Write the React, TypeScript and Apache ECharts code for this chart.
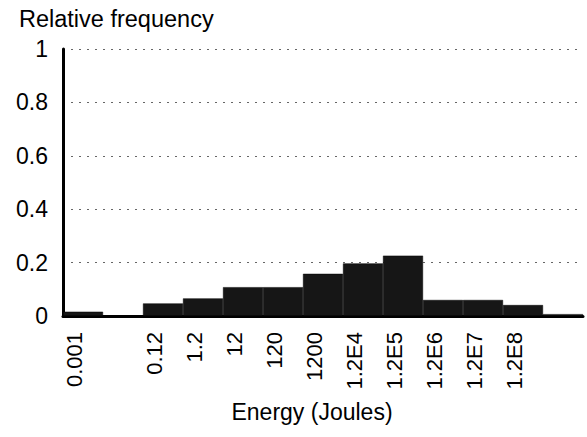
import React, { useEffect, useRef } from "react";
import * as echarts from "echarts";

const categories = ["0.001", "", "0.12", "1.2", "12", "120", "1200", "1.2E4", "1.2E5", "1.2E6", "1.2E7", "1.2E8", ""];
const frequencies = [0.016, 0, 0.047, 0.066, 0.108, 0.108, 0.158, 0.197, 0.226, 0.06, 0.06, 0.041, 0.007];
const yTicks = [0, 0.2, 0.4, 0.6, 0.8, 1];

const FONT = "'Liberation Sans', Arial, Helvetica, sans-serif";

export default function App() {
  const ref = useRef<HTMLDivElement>(null);
  useEffect(() => {
    if (!ref.current) return;
    const chart = echarts.init(ref.current, null, { renderer: "svg" });
    chart.setOption({
      animation: false,
      backgroundColor: "#ffffff",
      title: {
        text: "Relative frequency",
        left: 14,
        top: 2,
        textStyle: { fontFamily: FONT, fontSize: 23.5, fontWeight: "normal", color: "#000" },
      },
      grid: [
        { left: 63, right: 4, top: 49, bottom: 121 },
        { left: 54, width: 520, top: 49, bottom: 121 },
      ],
      xAxis: [
        {
          type: "category",
          gridIndex: 0,
          data: categories,
          axisLine: { show: true, lineStyle: { color: "#000", width: 3 } },
          axisTick: { show: false },
          axisLabel: { show: false },
          splitLine: { show: false },
        },
        {
          type: "category",
          gridIndex: 1,
          data: categories,
          axisLine: { show: false },
          axisTick: { show: false },
          axisLabel: {
            show: true,
            interval: 0,
            rotate: 90,
            margin: 16,
            fontFamily: FONT,
            fontSize: 22,
            color: "#000",
          },
          splitLine: { show: false },
        },
      ],
      yAxis: [
        {
          type: "value",
          gridIndex: 0,
          min: 0,
          max: 1,
          interval: 0.2,
          axisLine: { show: true, lineStyle: { color: "#000", width: 3 } },
          axisTick: { show: false },
          axisLabel: {
            margin: 15,
            fontFamily: FONT,
            fontSize: 23,
            color: "#000",
            formatter: (v: number) => (yTicks.includes(Math.round(v * 10) / 10) ? String(Math.round(v * 10) / 10) : ""),
          },
          splitLine: {
            show: true,
            lineStyle: { color: "#666", width: 1, type: [2, 6] },
          },
        },
        {
          type: "value",
          gridIndex: 1,
          min: 0,
          max: 1,
          show: false,
        },
      ],
      series: [
        {
          type: "bar",
          xAxisIndex: 0,
          yAxisIndex: 0,
          data: frequencies,
          barCategoryGap: "0%",
          itemStyle: { color: "#161616", borderColor: "#000", borderWidth: 0.5 },
        },
      ],
      graphic: [
        {
          type: "text",
          x: 312,
          y: 412,
          style: {
            text: "Energy (Joules)",
            fontFamily: FONT,
            fontSize: 23,
            fill: "#000",
            align: "center",
            verticalAlign: "middle",
          },
        },
      ],
    });
    return () => chart.dispose();
  }, []);
  return <div ref={ref} style={{ position: "fixed", left: 0, top: 0, width: 587, height: 437 }} />;
}
